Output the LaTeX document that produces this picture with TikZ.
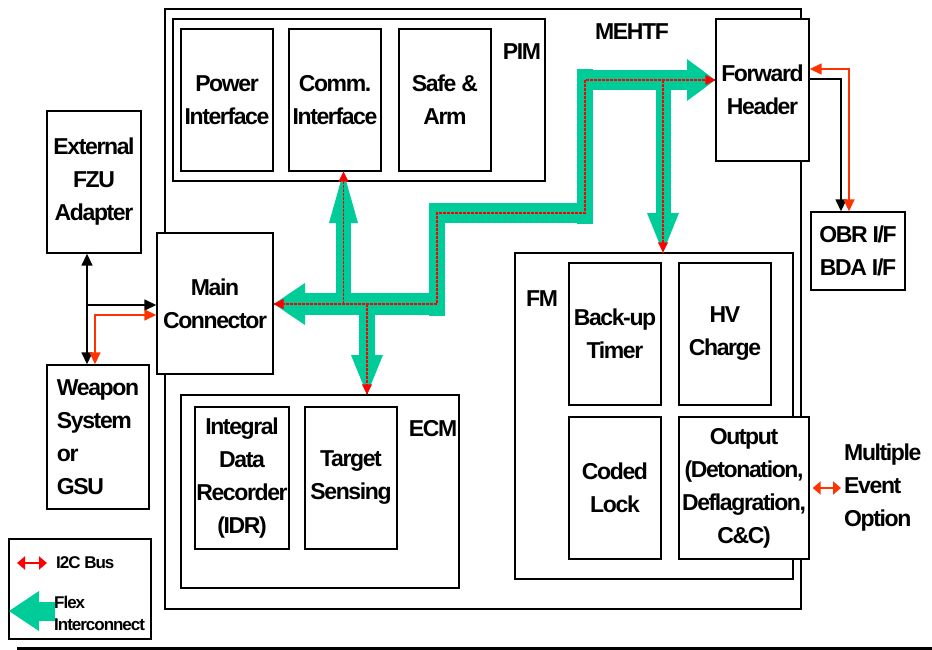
\documentclass[tikz,border=0pt]{standalone}
\usepackage{fontspec}
\setmainfont{Liberation Sans}[LetterSpace=-6]
\usetikzlibrary{arrows.meta}
\definecolor{flex}{RGB}{0,204,153}
\definecolor{ictwo}{RGB}{255,51,0}
\begin{document}
\begin{tikzpicture}[x=1pt,y=-1pt,
  blk/.style={draw, line width=1.4pt, fill=white, inner sep=0pt, align=center,
    font=\bfseries\fontsize{23}{33}\selectfont},
  lbl/.style={inner sep=0pt, align=center, font=\bfseries\fontsize{23}{33}\selectfont},
  conn/.style={line width=1.5pt, arrows={-Triangle[length=12pt,width=11pt]}},
  busl/.style={conn, ictwo},
  reddash/.style={red, line width=1.6pt, dash pattern=on 3pt off 1pt},
  redtip/.style={arrows={-Triangle[length=10pt,width=10pt]}},
  smallbus/.style={ictwo, line width=2pt, arrows={Triangle[length=8pt,width=13pt]-Triangle[length=8pt,width=13pt]}},
]
\useasboundingbox (0,0) rectangle (932,650);
% outer MEHTF box
\node[blk, minimum width=636, minimum height=600] (mehtf) at (483,309) {};
\node[lbl] (mehtflbl) at (632,32) {MEHTF};
% PIM
\node[blk, minimum width=372, minimum height=162] (pim) at (359,100) {};
\node[lbl] (pimlbl) at (522,52) {PIM};
\node[blk, minimum width=92, minimum height=142] (pwr) at (227,100) {Power\\Interface};
\node[blk, minimum width=92, minimum height=142] (comm) at (335,100) {Comm.\\Interface};
\node[blk, minimum width=92, minimum height=142] (safe) at (445,100) {Safe \&\\Arm};
% ECM
\node[blk, minimum width=278, minimum height=193] (ecm) at (320,491.5) {};
\node[lbl] (ecmlbl) at (433,429) {ECM};
\node[blk, minimum width=94, minimum height=142] (idr) at (242,478) {Integral\\Data\\Recorder\\(IDR)};
\node[blk, minimum width=92, minimum height=142] (tgt) at (351,478) {Target\\Sensing};
% FM
\node[blk, minimum width=278, minimum height=326] (fm) at (654,416) {};
\node[lbl] (fmlbl) at (542,299) {FM};
\node[blk, minimum width=92, minimum height=142] (bkp) at (615,334) {Back-up\\Timer};
\node[blk, minimum width=92, minimum height=142] (hv) at (725,334) {HV\\Charge};
\node[blk, minimum width=92, minimum height=142] (cl) at (615,488) {Coded\\Lock};
\node[blk, minimum width=130, minimum height=142] (out) at (744,488) {Output\\(Detonation,\\Deflagration,\\C\&C)};
% Forward header, OBR
\node[blk, minimum width=93, minimum height=142] (fh) at (762.5,90) {Forward\\Header};
\node[blk, minimum width=94, minimum height=78] (obr) at (858,251) {OBR I/F\\BDA I/F};
% left side
\node[blk, minimum width=94, minimum height=142] (fzu) at (94,182) {External\\FZU\\Adapter};
\node[blk, minimum width=116, minimum height=141] (mc) at (215,303.5) {Main\\Connector};
\node[blk, minimum width=102, minimum height=144, align=left] (wpn) at (98,437) {Weapon\\System\\or\\GSU};
% multiple event option
\node[lbl, align=left, anchor=west] (meo) at (844,488) {Multiple\\Event\\Option};

% black / I2C connectors on the left
\coordinate (jb) at (87,305);
\coordinate (jr) at (95,315);
\draw[conn, arrows={Triangle[length=12pt,width=11pt]-Triangle[length=12pt,width=11pt]}] (jb |- fzu.south) -- (jb |- wpn.north);
\draw[conn] (jb) -- (jb -| mc.west);
\draw[busl, arrows={Triangle[length=12pt,width=11pt]-Triangle[length=12pt,width=11pt]}] (jr -| mc.west) -- (jr) -- (jr |- wpn.north);
% right side
\coordinate (kb) at (841,79);
\coordinate (kr) at (849,69);
\draw[conn] (kb -| fh.east) -- (kb) -- (kb |- obr.north);
\draw[busl, arrows={Triangle[length=12pt,width=11pt]-Triangle[length=12pt,width=11pt]}] (kr -| fh.east) -- (kr) -- (kr |- obr.north);
\draw[smallbus] ([xshift=3pt]out.east) -- ([xshift=-3pt]meo.west);

% flex interconnect (green)
\coordinate (g1) at (437,304);
\coordinate (g2) at (437,213);
\coordinate (g3) at (585,213);
\coordinate (g4) at (585,80);
\coordinate (gc) at (343.5,304);
\coordinate (ge) at (367,304);
\coordinate (gf) at (663,80);
\fill[flex] (305,283) -- (g1 -| mc.east) -- (305,325) -- cycle;
\fill[flex] (304,293) rectangle (445,315);
\fill[flex] (336,294) rectangle (351,222);
\fill[flex] (329,223) -- (gc |- comm.south) -- (358,223) -- cycle;
\fill[flex] (359,314) rectangle (375,356);
\fill[flex] (351,355) -- (ge |- ecm.north) -- (383,355) -- cycle;
\fill[flex] (429,316) rectangle (445,203);
\fill[flex] (429,203) rectangle (593,223);
\fill[flex] (577,224) rectangle (593,69);
\fill[flex] (577,70) rectangle (688,90);
\fill[flex] (687,59) -- (g4 -| fh.west) -- (687,101) -- cycle;
\fill[flex] (656,89) rectangle (671,214);
\fill[flex] (647,213) -- (gf |- fm.north) -- (679,213) -- cycle;
% red I2C centre lines
\draw[reddash] (g1 -| mc.east) -- (g1) -- (g2) -- (g3) -- (g4) -- (g4 -| fh.west);
\draw[reddash] (gc) -- (gc |- comm.south);
\draw[reddash] (ge) -- (ge |- ecm.north);
\draw[reddash] (gf) -- (gf |- fm.north);
\draw[red, redtip] ([xshift=10pt]g1 -| mc.east) -- (g1 -| mc.east);
\draw[red, redtip] ([xshift=-10pt]g4 -| fh.west) -- (g4 -| fh.west);
\draw[red, redtip] ([yshift=-10pt]gc |- comm.south) -- (gc |- comm.south);
\draw[red, redtip] ([yshift=10pt]ge |- ecm.north) -- (ge |- ecm.north);
\draw[red, redtip] ([yshift=10pt]gf |- fm.north) -- (gf |- fm.north);

% legend
\node[draw, line width=2pt, minimum width=142, minimum height=100, inner sep=0pt] (legend) at (80,589) {};
\coordinate (la) at (17,563);
\coordinate (lb) at (47,563);
\draw[red, line width=2pt, arrows={Triangle[length=8pt,width=13pt]-Triangle[length=8pt,width=13pt]}] (la) -- (lb);
\node[lbl, anchor=west, font=\bfseries\fontsize{17}{21}\selectfont] (i2clbl) at (56,563) {I2C Bus};
\fill[flex] (39,591) -- (9,611) -- (39,631) -- cycle;
\fill[flex] (38,602) rectangle (55,621);
\node[lbl, anchor=west, align=left, font=\bfseries\fontsize{17}{22}\selectfont] (flexlbl) at (54,613) {Flex\\Interconnect};
% bottom rule
\coordinate (bl) at (17,648);
\coordinate (br) at (932,648);
\draw[line width=3pt] (bl) -- (br);
\end{tikzpicture}
\end{document}
